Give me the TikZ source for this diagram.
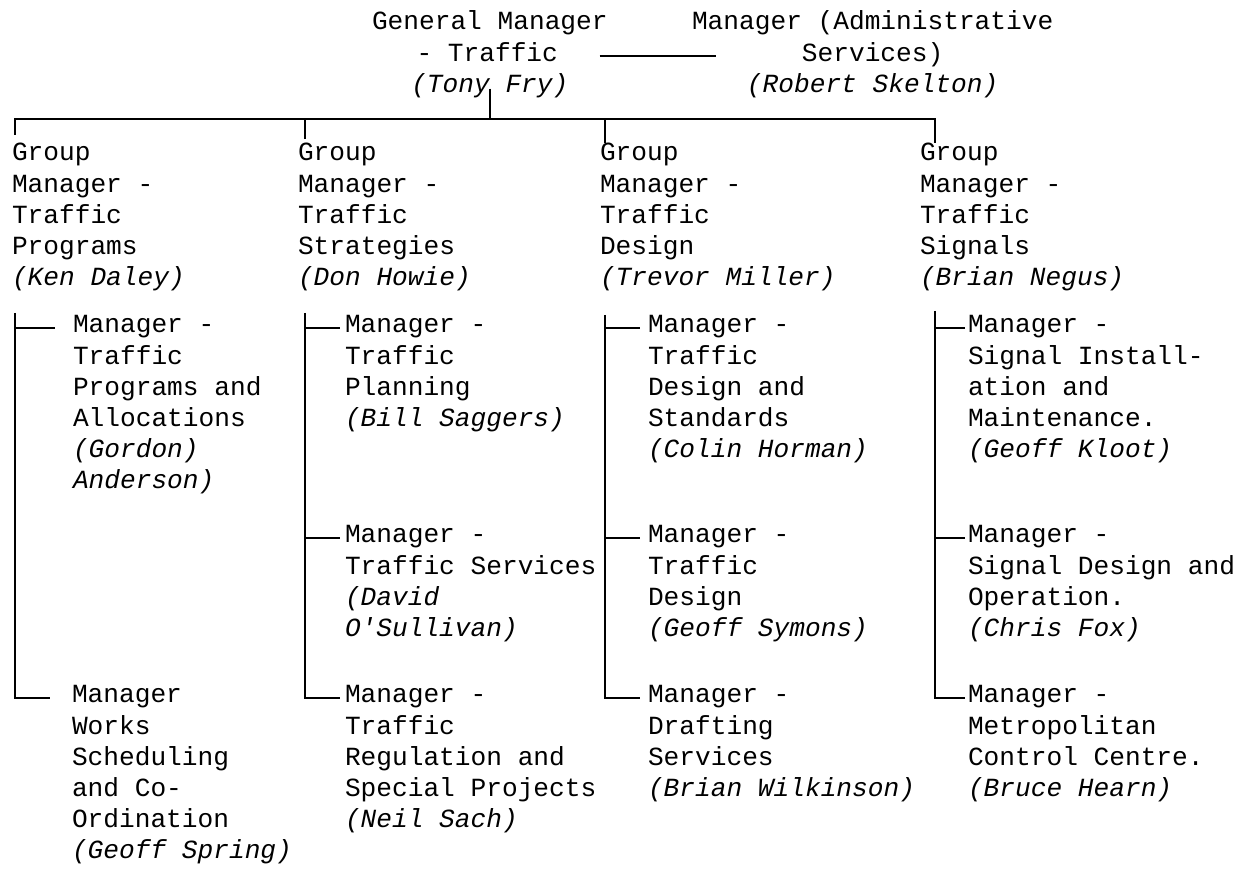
\documentclass[tikz,border=0pt]{standalone}
\usepackage{fontspec}
\setmainfont{Liberation Mono}
\usepackage{tikz}
\usetikzlibrary{calc}

\newcommand{\typefont}{\fontsize{14.9}{17.7}\selectfont}

\tikzset{
  post/.style={inner sep=0pt, outer sep=0pt, anchor=north west, align=left, font=\typefont},
  link/.style={line width=1.1pt}
}

\begin{document}
\begin{tikzpicture}[x=0.02cm,y=-0.02cm]

\fill[white] (0,0) rectangle (1254,869);
\useasboundingbox (0,0) rectangle (1254,869);

% top
\node[post] (gm) at (372,8.2) {\strut General Manager\\\hspace*{1.7em}- Traffic\\\hspace*{1.5em}\textit{(Tony Fry)}};
\node[post] (admin) at (692,8.2) {\strut Manager (Administrative\\\hspace*{4.2em}Services)\\\hspace*{2.1em}\textit{(Robert Skelton)}};

% groups
\node[post] (g1) at (12,139.2) {\strut Group\\Manager -\\Traffic\\Programs\\\textit{(Ken Daley)}};
\node[post] (g2) at (298,139.2) {\strut Group\\Manager -\\Traffic\\Strategies\\\textit{(Don Howie)}};
\node[post] (g3) at (600,139.2) {\strut Group\\Manager -\\Traffic\\Design\\\textit{(Trevor Miller)}};
\node[post] (g4) at (920,139.2) {\strut Group\\Manager -\\Traffic\\Signals\\\textit{(Brian Negus)}};

% programs
\node[post] (prog1) at (73,311.2) {\strut Manager -\\Traffic\\Programs and\\Allocations\\\textit{(Gordon)}\\\textit{Anderson)}};
\node[post] (prog2) at (72,681.2) {\strut Manager\\Works\\Scheduling\\and Co-\\Ordination\\\textit{(Geoff Spring)}};

% strategies
\node[post] (strat1) at (345,311.2) {\strut Manager -\\Traffic\\Planning\\\textit{(Bill Saggers)}};
\node[post] (strat2) at (345,521.2) {\strut Manager -\\Traffic Services\\\textit{(David}\\\textit{O\textquotesingle Sullivan)}};
\node[post] (strat3) at (345,681.2) {\strut Manager -\\Traffic\\Regulation and\\Special Projects\\\textit{(Neil Sach)}};

% design
\node[post] (des1) at (648,311.2) {\strut Manager -\\Traffic\\Design and\\Standards\\\textit{(Colin Horman)}};
\node[post] (des2) at (648,521.2) {\strut Manager -\\Traffic\\Design\\\textit{(Geoff Symons)}};
\node[post] (des3) at (648,681.2) {\strut Manager -\\Drafting\\Services\\\textit{(Brian Wilkinson)}};

% signals
\node[post] (sig1) at (968,311.2) {\strut Manager -\\Signal Install-\\ation and\\Maintenance.\\\textit{(Geoff Kloot)}};
\node[post] (sig2) at (968,521.2) {\strut Manager -\\Signal Design and\\Operation.\\\textit{(Chris Fox)}};
\node[post] (sig3) at (968,681.2) {\strut Manager -\\Metropolitan\\Control Centre.\\\textit{(Bruce Hearn)}};

% top links
\draw[link] ($(gm.north east)+(-8,48)$) -- ($(admin.north west)+(24,48)$);
\draw[link] ($(gm.south)+(0,-9)$) |- ($(g1.north west)+(3,-20)$) -- ($(g1.north west)+(3,-4)$);
\draw[link] ($(g1.north west)+(3,-20)$) -| ($(g4.north west)+(15,4)$);
\draw[link] ($(g2.north west)+(7,0)$) -- ++(0,-20);
\draw[link] ($(g3.north west)+(5,4)$) -- ++(0,-24);

% column 1
\draw[link] ($(g1.south west)+(3,22)$) |- ($(prog2.north west)+(-22,17)$);
\draw[link] ($(prog1.north west)+(-58,17)$) -- ++(40,0);

% column 2
\draw[link] ($(g2.south west)+(7,22)$) |- ($(strat3.north west)+(-5,17)$);
\draw[link] ($(strat1.north west)+(-40,17)$) -- ++(35,0);
\draw[link] ($(strat2.north west)+(-40,17)$) -- ++(35,0);

% column 3
\draw[link] ($(g3.south west)+(5,24)$) |- ($(des3.north west)+(-8,17)$);
\draw[link] ($(des1.north west)+(-43,17)$) -- ++(35,0);
\draw[link] ($(des2.north west)+(-43,17)$) -- ++(35,0);

% column 4
\draw[link] ($(g4.south west)+(15,20)$) |- ($(sig3.north west)+(-3,17)$);
\draw[link] ($(sig1.north west)+(-33,17)$) -- ++(30,0);
\draw[link] ($(sig2.north west)+(-33,17)$) -- ++(30,0);

\end{tikzpicture}
\end{document}
